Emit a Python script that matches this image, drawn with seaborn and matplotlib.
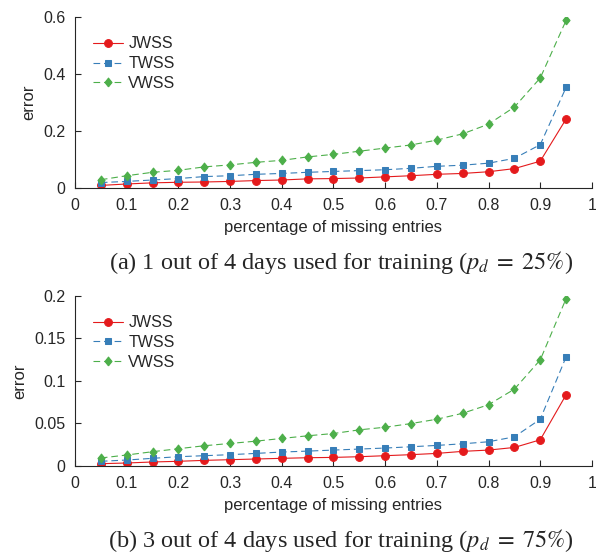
import matplotlib
matplotlib.use("Agg")
import matplotlib.pyplot as plt
import seaborn as sns
import pandas as pd

# missing ratio on x-axis
missing = [0.05, 0.10, 0.15, 0.20, 0.25, 0.30, 0.35, 0.40, 0.45, 0.50,
           0.55, 0.60, 0.65, 0.70, 0.75, 0.80, 0.85, 0.90, 0.95]

# (a) p_d = 25%
jwss_a = [0.009, 0.014, 0.018, 0.020, 0.021, 0.023, 0.026, 0.028, 0.032, 0.033,
          0.035, 0.039, 0.043, 0.048, 0.051, 0.057, 0.068, 0.094, 0.242]
twss_a = [0.019, 0.023, 0.028, 0.033, 0.040, 0.043, 0.048, 0.051, 0.055, 0.058,
          0.061, 0.064, 0.069, 0.076, 0.080, 0.087, 0.104, 0.152, 0.353]
vwss_a = [0.029, 0.043, 0.055, 0.062, 0.074, 0.081, 0.090, 0.097, 0.109, 0.118,
          0.129, 0.140, 0.151, 0.168, 0.190, 0.224, 0.284, 0.386, 0.588]

# (b) p_d = 75%
jwss_b = [0.0027, 0.0035, 0.0047, 0.0055, 0.0066, 0.0074, 0.0082, 0.0090, 0.0097, 0.0101,
          0.0109, 0.0121, 0.0133, 0.0148, 0.0172, 0.0187, 0.0218, 0.0308, 0.0838]
twss_b = [0.0055, 0.0070, 0.0090, 0.0109, 0.0121, 0.0133, 0.0148, 0.0164, 0.0175, 0.0187,
          0.0199, 0.0211, 0.0226, 0.0242, 0.0261, 0.0285, 0.0343, 0.0550, 0.1283]
vwss_b = [0.0094, 0.0129, 0.0168, 0.0203, 0.0238, 0.0265, 0.0292, 0.0324, 0.0355, 0.0382,
          0.0425, 0.0456, 0.0499, 0.0550, 0.0620, 0.0721, 0.0904, 0.1248, 0.1969]

methods = ["JWSS", "TWSS", "VWSS"]
colors = ["#e41a1c", "#377eb8", "#4daf4a"]
# slightly tall diamond like the original
diamond = [(0, -1), (0.8, 0), (0, 1), (-0.8, 0), (0, -1)]
markers = ["o", "s", diamond]
lstyles = ["-", (0, (6, 3.5)), (0, (6, 3.5))]
msizes = [5.6, 4.8, 6.4]

xticks = [0, 0.1, 0.2, 0.3, 0.4, 0.5, 0.6, 0.7, 0.8, 0.9, 1]
xticklabels = ["0", "0.1", "0.2", "0.3", "0.4", "0.5", "0.6", "0.7", "0.8", "0.9", "1"]

sns.set_style("white")
plt.rcParams["font.family"] = ["Liberation Sans", "DejaVu Sans"]
plt.rcParams["mathtext.fontset"] = "stix"

fig = plt.figure(figsize=(5.96, 5.55), dpi=100)
ax_a = fig.add_axes([0.1258, 0.6613, 0.8674, 0.3081])
ax_b = fig.add_axes([0.1258, 0.1604, 0.8674, 0.3063])


def draw(ax, series, yticks, yticklabels, ymax):
    for name, vals, c, m, ls, ms in zip(methods, series, colors, markers, lstyles, msizes):
        df = pd.DataFrame({"x": missing, "y": vals})
        sns.lineplot(data=df, x="x", y="y", ax=ax, color=c, marker=m, markersize=ms,
                     markeredgecolor=c, linestyle=ls, linewidth=0.8, label=name)
    ax.set_xlim(0, 1)
    ax.set_ylim(0, ymax)
    ax.set_xticks(xticks)
    ax.set_xticklabels(xticklabels)
    ax.set_yticks(yticks)
    ax.set_yticklabels(yticklabels)
    ax.tick_params(direction="in", length=4, width=0.8, labelsize=11.5,
                   colors="#262626", left=True, bottom=True, pad=7)
    for s in ["top", "right"]:
        ax.spines[s].set_visible(False)
    for s in ["left", "bottom"]:
        ax.spines[s].set_color("#262626")
        ax.spines[s].set_linewidth(0.8)
    ax.set_xlabel("percentage of missing entries", fontsize=12, labelpad=5, color="#262626")
    ax.set_ylabel("error", fontsize=12, labelpad=5, color="#262626")
    ax.legend(loc="upper left", frameon=False, fontsize=11.5,
              bbox_to_anchor=(0.035, 0.887), borderaxespad=0, borderpad=0,
              handlelength=1.9, handletextpad=0.3, labelspacing=0.3)


draw(ax_a, [jwss_a, twss_a, vwss_a], [0, 0.2, 0.4, 0.6], ["0", "0.2", "0.4", "0.6"], 0.6)
draw(ax_b, [jwss_b, twss_b, vwss_b], [0, 0.05, 0.1, 0.15, 0.2],
     ["0", "0.05", "0.1", "0.15", "0.2"], 0.2)

fig.text(0.572, 1 - 262 / 555, r"(a) 1 out of 4 days used for training ($p_d\;=\;25\%$)",
         ha="center", va="center", fontsize=17.5, family="Liberation Serif")
fig.text(0.572, 1 - 540 / 555, r"(b) 3 out of 4 days used for training ($p_d\;=\;75\%$)",
         ha="center", va="center", fontsize=17.5, family="Liberation Serif")

fig.savefig("out.png", dpi=100)
